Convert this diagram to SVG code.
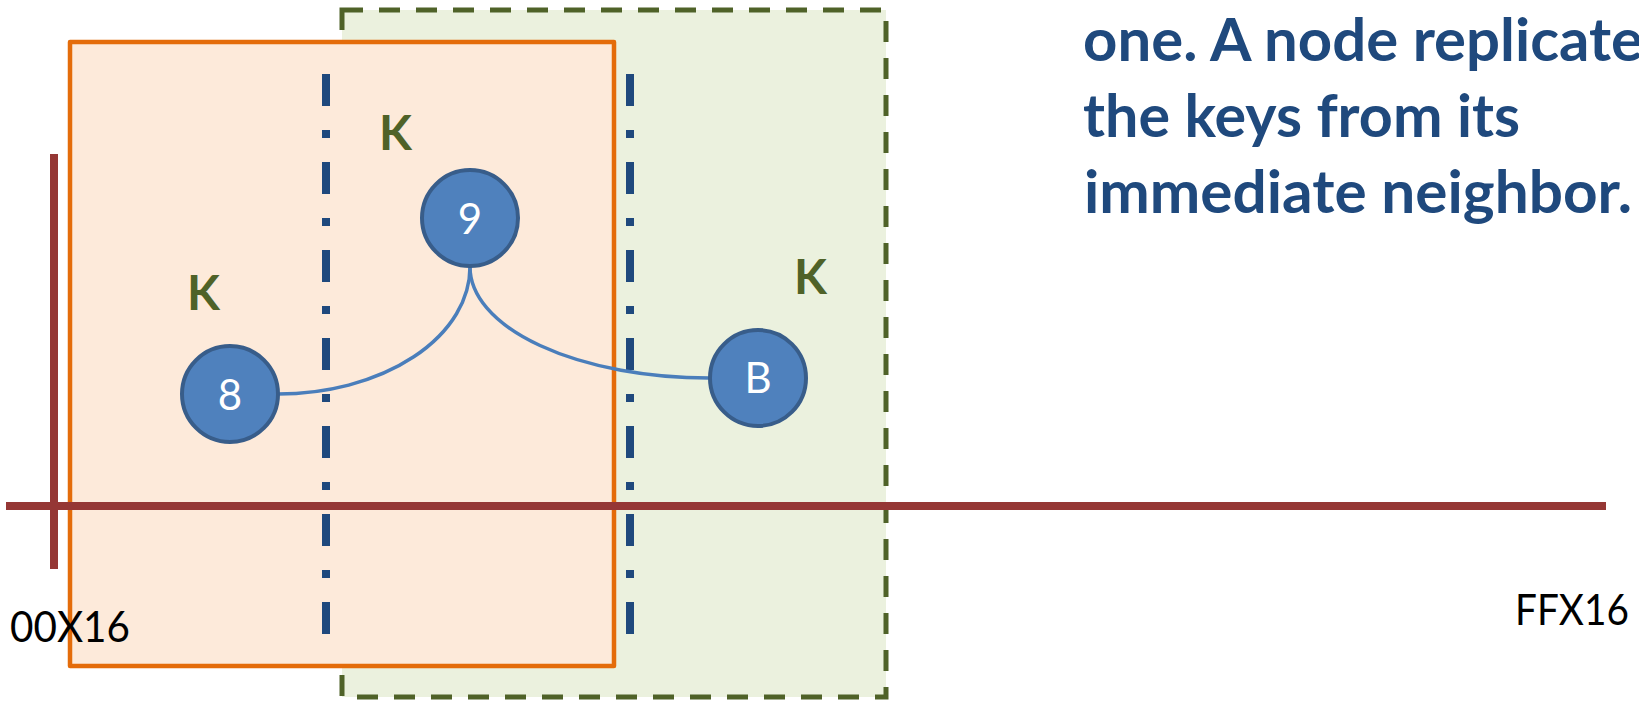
<svg xmlns="http://www.w3.org/2000/svg" width="1639" height="701" viewBox="0 0 1639 701">
<style>
.node circle{fill:#4F81BD;stroke:#385D8A;stroke-width:4}
.node text{fill:#FFFFFF;font-family:Lato,"Liberation Sans",sans-serif;font-size:42px;text-anchor:middle}
.k{fill:#4F6228;font-family:Lato,"Liberation Sans",sans-serif;font-weight:bold;font-size:48px}
.ddash{stroke:#1F497D;stroke-width:8;stroke-dasharray:32 24 8 24;fill:none}
.axis{stroke:#953735;stroke-width:8;fill:none}
.conn{stroke:#4A7EBB;stroke-width:3.5;fill:none}
.lbl{fill:#000000;font-family:Lato,"Liberation Sans",sans-serif;font-size:43px}
.desc{fill:#1F497D;font-family:Lato,"Liberation Sans",sans-serif;font-weight:bold;font-size:59px}
</style>
<rect width="1639" height="701" fill="#FFFFFF"/>
<g id="range-green">
<rect x="342" y="10" width="544" height="687" fill="#EBF1DE" stroke="#4F6228" stroke-width="5" stroke-dasharray="21 16"/>
</g>
<g id="range-orange">
<rect x="70" y="42" width="544" height="624" fill="#FDEADA" stroke="#E46C0A" stroke-width="4.5" stroke-linejoin="round"/>
</g>
<g id="boundaries">
<line class="ddash" x1="326" y1="74" x2="326" y2="634"/>
<line class="ddash" x1="630" y1="74" x2="630" y2="634"/>
</g>
<g id="axes">
<line class="axis" x1="54" y1="154" x2="54" y2="569"/>
<line class="axis" x1="6" y1="506" x2="1606" y2="506"/>
</g>
<g id="connectors">
<path class="conn" d="M470,267 A192,127 0 0 1 278,394"/>
<path class="conn" d="M470,267 A239,111 0 0 0 709,378"/>
</g>
<g id="node-9" class="node">
<circle cx="470" cy="218" r="48"/>
<text x="470" y="234">9</text>
</g>
<g id="node-8" class="node">
<circle cx="230" cy="394" r="48"/>
<text x="230" y="410">8</text>
</g>
<g id="node-B" class="node">
<circle cx="758" cy="378" r="48"/>
<text x="758" y="393">B</text>
</g>
<g id="keys">
<text class="k" x="379" y="150">K</text>
<text class="k" x="187" y="310">K</text>
<text class="k" x="794" y="294">K</text>
</g>
<g id="labels">
<text class="lbl" x="10" y="642" textLength="120" lengthAdjust="spacingAndGlyphs">00X16</text>
<text class="lbl" x="1515" y="625" textLength="114" lengthAdjust="spacingAndGlyphs">FFX16</text>
</g>
<g id="description">
<text class="desc" x="1083" y="61" textLength="560" lengthAdjust="spacingAndGlyphs">one. A node replicate</text>
<text class="desc" x="1083" y="137" textLength="437" lengthAdjust="spacingAndGlyphs">the keys from its</text>
<text class="desc" x="1084" y="213" textLength="548" lengthAdjust="spacingAndGlyphs">immediate neighbor.</text>
</g>
</svg>
